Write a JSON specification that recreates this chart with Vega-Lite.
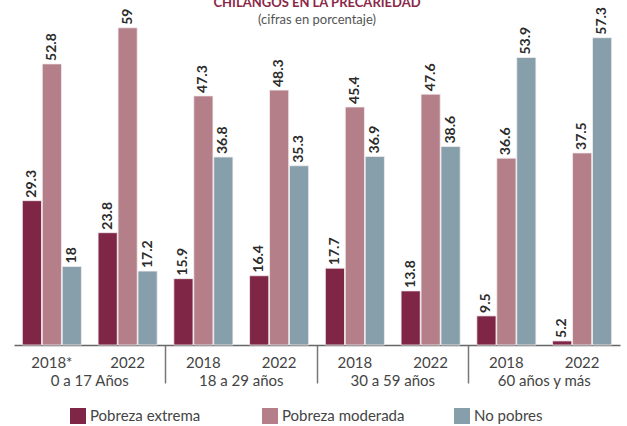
{
  "$schema": "https://vega.github.io/schema/vega-lite/v6.json",
  "width": 606,
  "height": 323,
  "autosize": {"type": "none"},
  "padding": {"left": 14, "top": 22, "right": 7, "bottom": 81},
  "background": "white",
  "config": {"view": {"stroke": null}, "font": "Lato"},
  "title": {
    "text": "CHILANGOS EN LA PRECARIEDAD",
    "subtitle": "(cifras en porcentaje)",
    "anchor": "middle",
    "color": "#8a2848",
    "fontSize": 13,
    "fontWeight": "bold",
    "font": "Lato",
    "subtitleFont": "Lato",
    "subtitleColor": "#555555",
    "subtitleFontSize": 13,
    "subtitlePadding": 4,
    "offset": -20
  },
  "datasets": {
    "valores": [
      {"grupo": "0 a 17 Años", "anio": "2018*", "bloque": "0 a 17 Años|2018*", "serie": "Pobreza extrema", "valor": 29.3},
      {"grupo": "0 a 17 Años", "anio": "2018*", "bloque": "0 a 17 Años|2018*", "serie": "Pobreza moderada", "valor": 52.8},
      {"grupo": "0 a 17 Años", "anio": "2018*", "bloque": "0 a 17 Años|2018*", "serie": "No pobres", "valor": 18},
      {"grupo": "0 a 17 Años", "anio": "2022", "bloque": "0 a 17 Años|2022", "serie": "Pobreza extrema", "valor": 23.8},
      {"grupo": "0 a 17 Años", "anio": "2022", "bloque": "0 a 17 Años|2022", "serie": "Pobreza moderada", "valor": 59},
      {"grupo": "0 a 17 Años", "anio": "2022", "bloque": "0 a 17 Años|2022", "serie": "No pobres", "valor": 17.2},
      {"grupo": "18 a 29 años", "anio": "2018", "bloque": "18 a 29 años|2018", "serie": "Pobreza extrema", "valor": 15.9},
      {"grupo": "18 a 29 años", "anio": "2018", "bloque": "18 a 29 años|2018", "serie": "Pobreza moderada", "valor": 47.3},
      {"grupo": "18 a 29 años", "anio": "2018", "bloque": "18 a 29 años|2018", "serie": "No pobres", "valor": 36.8},
      {"grupo": "18 a 29 años", "anio": "2022", "bloque": "18 a 29 años|2022", "serie": "Pobreza extrema", "valor": 16.4},
      {"grupo": "18 a 29 años", "anio": "2022", "bloque": "18 a 29 años|2022", "serie": "Pobreza moderada", "valor": 48.3},
      {"grupo": "18 a 29 años", "anio": "2022", "bloque": "18 a 29 años|2022", "serie": "No pobres", "valor": 35.3},
      {"grupo": "30 a 59 años", "anio": "2018", "bloque": "30 a 59 años|2018", "serie": "Pobreza extrema", "valor": 17.7},
      {"grupo": "30 a 59 años", "anio": "2018", "bloque": "30 a 59 años|2018", "serie": "Pobreza moderada", "valor": 45.4},
      {"grupo": "30 a 59 años", "anio": "2018", "bloque": "30 a 59 años|2018", "serie": "No pobres", "valor": 36.9},
      {"grupo": "30 a 59 años", "anio": "2022", "bloque": "30 a 59 años|2022", "serie": "Pobreza extrema", "valor": 13.8},
      {"grupo": "30 a 59 años", "anio": "2022", "bloque": "30 a 59 años|2022", "serie": "Pobreza moderada", "valor": 47.6},
      {"grupo": "30 a 59 años", "anio": "2022", "bloque": "30 a 59 años|2022", "serie": "No pobres", "valor": 38.6},
      {"grupo": "60 años y más", "anio": "2018", "bloque": "60 años y más|2018", "serie": "Pobreza extrema", "valor": 9.5},
      {"grupo": "60 años y más", "anio": "2018", "bloque": "60 años y más|2018", "serie": "Pobreza moderada", "valor": 36.6},
      {"grupo": "60 años y más", "anio": "2018", "bloque": "60 años y más|2018", "serie": "No pobres", "valor": 53.9},
      {"grupo": "60 años y más", "anio": "2022", "bloque": "60 años y más|2022", "serie": "Pobreza extrema", "valor": 5.2},
      {"grupo": "60 años y más", "anio": "2022", "bloque": "60 años y más|2022", "serie": "Pobreza moderada", "valor": 37.5},
      {"grupo": "60 años y más", "anio": "2022", "bloque": "60 años y más|2022", "serie": "No pobres", "valor": 57.3}
    ],
    "grupos": [
      {"grupo": "0 a 17 Años"},
      {"grupo": "18 a 29 años"},
      {"grupo": "30 a 59 años"},
      {"grupo": "60 años y más"}
    ]
  },
  "layer": [
    {
      "data": {"name": "valores"},
      "encoding": {
        "x": {
          "field": "bloque",
          "type": "nominal",
          "sort": null,
          "scale": {"paddingInner": 0.22, "paddingOuter": 0.11},
          "axis": {
            "title": null,
            "orient": "bottom",
            "ticks": false,
            "domainColor": "#666666",
            "domainWidth": 1.5,
            "labelExpr": "split(datum.value, '|')[1]",
            "labelAngle": 0,
            "labelFont": "Lato",
            "labelFontSize": 15,
            "labelColor": "#444444",
            "labelPadding": 10
          }
        },
        "xOffset": {
          "field": "serie",
          "type": "nominal",
          "sort": ["Pobreza extrema", "Pobreza moderada", "No pobres"],
          "scale": {"paddingInner": 0.04, "paddingOuter": 0}
        },
        "y": {
          "field": "valor",
          "type": "quantitative",
          "scale": {"domain": [4.5, 60], "zero": false, "clamp": true, "nice": false},
          "axis": null
        }
      },
      "layer": [
        {
          "mark": {"type": "bar", "stroke": "#f3eef0", "strokeWidth": 0.8},
          "encoding": {
            "color": {
              "field": "serie",
              "type": "nominal",
              "sort": ["Pobreza extrema", "Pobreza moderada", "No pobres"],
              "scale": {
                "domain": ["Pobreza extrema", "Pobreza moderada", "No pobres"],
                "range": ["#7f2545", "#b47f88", "#879fab"]
              },
              "legend": {
                "title": null,
                "orient": "none",
                "legendX": 56,
                "legendY": 386,
                "direction": "horizontal",
                "symbolType": "square",
                "symbolSize": 256,
                "symbolStrokeWidth": 0,
                "labelFont": "Lato",
                "labelFontSize": 15,
                "labelColor": "#444444",
                "gridAlign": "all",
                "columnPadding": 49
              }
            }
          }
        },
        {
          "mark": {
            "type": "text",
            "angle": 270,
            "align": "left",
            "baseline": "middle",
            "dx": 3,
            "font": "Lato",
            "fontSize": 14,
            "fontWeight": "bold",
            "color": "#2b2b2b"
          },
          "encoding": {
            "text": {"field": "valor", "type": "quantitative"}
          }
        }
      ]
    },
    {
      "data": {"name": "grupos"},
      "mark": {"type": "point", "opacity": 0},
      "encoding": {
        "x": {
          "field": "grupo",
          "type": "nominal",
          "sort": null,
          "scale": {"type": "band", "paddingInner": 0, "paddingOuter": 0},
          "axis": {
            "title": null,
            "orient": "bottom",
            "domain": false,
            "bandPosition": 0,
            "ticks": true,
            "tickSize": 38,
            "tickWidth": 1.5,
            "tickColor": {"condition": {"test": "datum.value === '0 a 17 Años'", "value": "transparent"}, "value": "#777777"},
            "labelPadding": -10,
            "labelAngle": 0,
            "labelFont": "Lato",
            "labelFontSize": 15,
            "labelColor": "#444444"
          }
        }
      }
    }
  ],
  "resolve": {"scale": {"x": "independent"}, "axis": {"x": "independent"}}
}
